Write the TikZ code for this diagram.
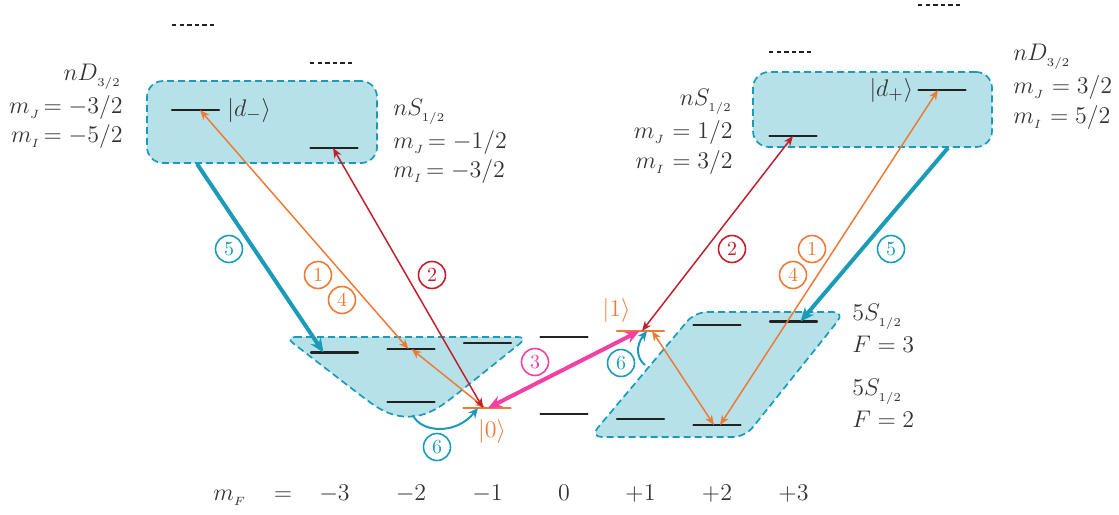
\documentclass[tikz,border=0pt]{standalone}
\usepackage{amsmath,amssymb}
\usepackage{xcolor}
\usepackage{tikz}
\usetikzlibrary{arrows.meta,positioning}
\definecolor{rbTeal}{HTML}{1A9CB8}
\definecolor{rbFill}{HTML}{B6E1E9}
\definecolor{rbOrange}{HTML}{EE7B35}
\definecolor{rbRed}{HTML}{C0202E}
\definecolor{rbPink}{HTML}{F43FA3}
\definecolor{rbInk}{HTML}{333333}
\definecolor{rbLine}{HTML}{222222}
\tikzset{
  rb diagram/.style={x=0.5pt, y=-0.5pt, font=\fontsize{13}{15}\selectfont,
    text=rbInk, line join=round},
  rb region/.style={draw=rbTeal, fill=rbFill, line width=0.85pt,
    dash pattern=on 3.5pt off 2pt, rounded corners=5pt},
  rb box/.style={rb region, rounded corners=8pt, inner sep=0pt},
  rb level/.style={draw=rbLine, line width=1.1pt, minimum width=23.5pt,
    minimum height=0pt, inner sep=0pt, outer sep=0pt},
  rb qubit/.style={rb level, draw=rbOrange},
  rb more/.style={draw=rbLine, line width=0.8pt, dash pattern=on 2.2pt off 1.6pt},
  rb probe/.style={line width=0.75pt,
    {Stealth[length=5pt,width=4pt]}-{Stealth[length=5pt,width=4pt]}},
  rb raman/.style={draw=rbPink, line width=2pt,
    {Stealth[length=7pt,width=6pt]}-{Stealth[length=7pt,width=6pt]}},
  rb decay/.style={draw=rbTeal, line width=2pt, -{Stealth[length=7pt,width=6pt]}},
  rb pump/.style={draw=rbTeal, line width=1pt, -{Stealth[length=5pt,width=4.5pt]}},
  rb num/.style={circle, draw, line width=0.8pt, minimum size=13.5pt,
    inner sep=0pt, font=\normalsize},
  rb ket/.style={inner sep=0pt},
  rb tag/.style={inner sep=0pt}
}
\begin{document}
\begin{tikzpicture}[rb diagram]
\useasboundingbox (0,0) rectangle (1119,514);
% shaded manifolds
\node[rb box, minimum width=115pt, minimum height=41pt] (dmbox) at (262,122) {};
\node[rb box, minimum width=119.5pt, minimum height=37.5pt] (dpbox) at (872.5,109.5) {};
\draw[rb region] (285,337) -- (528,337) -- (452,398)
  .. controls (420,421) and (396,421) .. (364,398) -- cycle;
\draw[rb region, rounded corners=6pt] (695,312) -- (845,312) -- (745,437) -- (590,437) -- cycle;
\coordinate (bowlbot) at (413,415);
\coordinate (slant) at (645,365);
% Rydberg levels
\node[rb level] (dm) at (195.5,110) {};
\node[rb level] (sl) at (334,148) {};
\node[rb level] (sr) at (793,136) {};
\node[rb level] (dp) at (942,90) {};
\draw[rb more] (172,25) -- (217,25);
\draw[rb more] (310,63) -- (355,63);
\draw[rb more] (769,52) -- (813,52);
\draw[rb more] (918,5) -- (963,5);
\node[rb ket, right=4pt of dm] (dmlab) {$|d_-\rangle$};
\node[rb ket, left=2.5pt of dp] (dplab) {$|d_+\rangle$};
% ground hyperfine levels
\foreach \n/\m/\y in {m3/-3/352.5, m2/-2/349, m1/-1/343, z/0/337, p2/2/325, p3/3/321.5}
  \node[rb level] (F3\n) at ({564+76.5*\m},\y) {};
\node[rb qubit] (F3p1) at (640.5,331) {};
\foreach \n/\m/\y in {m2/-2/402, z/0/414, p1/1/419, p2/2/425}
  \node[rb level] (F2\n) at ({564+76.5*\m},\y) {};
\node[rb qubit] (F2m1) at (487,408) {};
\node[rb ket, text=rbOrange, below=5.5pt of F2m1, xshift=2.5pt] (ket0) {$|0\rangle$};
\node[rb ket, text=rbOrange, above=4pt of F3p1, xshift=-12pt] (ket1) {$|1\rangle$};
% transitions
\draw[rb decay] ([xshift=-32.5pt]dmbox.south) -- ([xshift=-5.5pt]F3m3.center);
\draw[rb decay] ([xshift=37.75pt]dpbox.south) -- ([xshift=3.5pt]F3p3.center);
\draw[rb probe, draw=rbOrange] ([xshift=2.25pt]dm.center) -- ([xshift=-1.25pt]F3m2.center);
\draw[rb probe, draw=rbOrange] ([xshift=0.25pt]F3m2.center) -- ([xshift=-1pt]F2m1.center);
\draw[rb probe, draw=rbRed] ([xshift=-2pt]F2m1.center) -- ([xshift=-0.5pt]sl.center);
\draw[rb raman] ([xshift=0.5pt]F2m1.center) -- ([xshift=-0.5pt]F3p1.center);
\draw[rb probe, draw=rbRed] ([xshift=0.75pt]F3p1.center) -- (sr.center);
\draw[rb probe, draw=rbOrange] ([xshift=5.75pt]F3p1.center) -- ([xshift=-1.5pt]F2p2.center);
\draw[rb probe, draw=rbOrange] ([xshift=1.5pt]F2p2.center) -- ([xshift=-2pt]dp.center);
\draw[rb pump] (bowlbot) .. controls (420,432) and (455,436) .. ([xshift=-4.5pt]F2m1.center);
\draw[rb pump] (slant) .. controls (636,358) and (636,345) .. ([xshift=3.25pt]F3p1.center);
% step numbers
\node[rb num, rbTeal] (n5l) at (229,249) {5};
\node[rb num, rbOrange] (n1l) at (318,275) {1};
\node[rb num, rbOrange] (n4l) at (342,300) {4};
\node[rb num, rbRed] (n2l) at (432,275) {2};
\node[rb num, rbPink] (n3) at (535,362) {3};
\node[rb num, rbTeal] (n6l) at (437,447) {6};
\node[rb num, rbTeal] (n6r) at (621,363) {6};
\node[rb num, rbRed] (n2r) at (732,249) {2};
\node[rb num, rbOrange] (n1r) at (812,249) {1};
\node[rb num, rbOrange] (n4r) at (793,275) {4};
\node[rb num, rbTeal] (n5r) at (891,249) {5};
% state labels
\node[rb tag, anchor=base east] (nDl) at (122,80) {$nD_{_{3/2}}$};
\node[rb tag, anchor=base east] (mJl) at (123,113) {$m_{_J}\!= -3/2$};
\node[rb tag, anchor=base east] (mIl) at (123,142) {$m_{_I}\!= -5/2$};
\node[rb tag, anchor=base west] (nSl) at (393,115) {$nS_{_{1/2}}$};
\node[rb tag, anchor=base west] (mJsl) at (393,148) {$m_{_J}\!= -1/2$};
\node[rb tag, anchor=base west] (mIsl) at (393,177) {$m_{_I}\!= -3/2$};
\node[rb tag, anchor=base east] (nSr) at (733,105) {$nS_{_{1/2}}$};
\node[rb tag, anchor=base east] (mJsr) at (733,138) {$m_{_J}= 1/2$};
\node[rb tag, anchor=base east] (mIsr) at (733,168) {$m_{_I}= 3/2$};
\node[rb tag, anchor=base west] (nDr) at (1013,60) {$nD_{_{3/2}}$};
\node[rb tag, anchor=base west] (mJr) at (1013,93) {$m_{_J}= 3/2$};
\node[rb tag, anchor=base west] (mIr) at (1013,123) {$m_{_I}= 5/2$};
\node[rb tag, anchor=base west] (S3a) at (852,320) {$5S_{_{1/2}}$};
\node[rb tag, anchor=base west] (S3b) at (852,352) {$F=3$};
\node[rb tag, anchor=base west] (S2a) at (852,395) {$5S_{_{1/2}}$};
\node[rb tag, anchor=base west] (S2b) at (852,427) {$F=2$};
% m_F axis
\node[rb tag, anchor=base west] (mF) at (213,500) {$m_{_F}$};
\node[rb tag, anchor=base] (mFeq) at (283,500) {$=$};
\foreach \m/\t in {-3/-3, -2/-2, -1/-1, 0/0, 1/+1, 2/+2, 3/+3}
  \node[rb tag, anchor=base] (ax\m) at ({564+76.5*\m},500) {$\t$};
\end{tikzpicture}
\end{document}
